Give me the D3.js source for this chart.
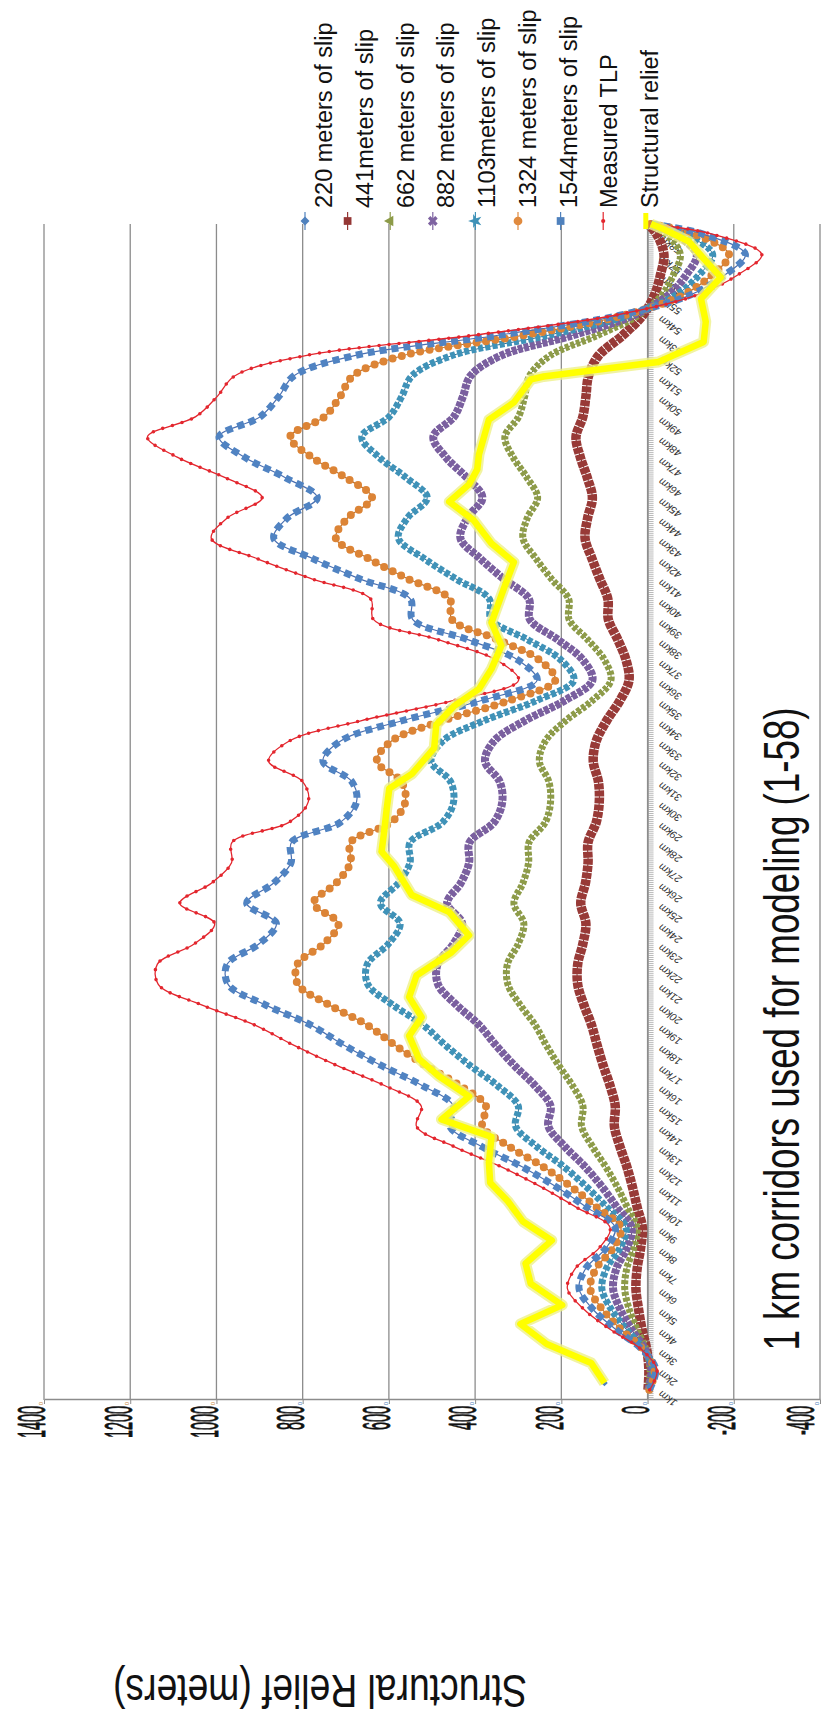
<!DOCTYPE html>
<html>
<head>
<meta charset="utf-8">
<script src="https://cdn.jsdelivr.net/npm/d3@7"></script>
<style>
  body { margin: 0; background: #fff; }
  svg { display: block; background: #fff; }
</style>
</head>
<body>
<div id="chart"></div>
<script>
// corridor labels along the km axis
const kmLabels = ["1km","2km","3km","4km","5km","6km","7km","8km","9km","10km",
  "11km","12km","13km","14km","15km","16km","17km","18km","19km","20km",
  "21km","22km","23km","24km","25km","26km","27km","28km","29km","30km",
  "31km","32km","33km","34km","35km","36km","37km","38km","39km","40km",
  "41km","42km","43km","44km","45km","46km","47km","48km","49km","50km",
  "51km","52km","53km","54km","55km","56km","57km","58km"]

// where each modelled value sits along the km axis (last one is the end of the profile)
const kmAt = [1, 2, 3, 4, 5, 6, 7, 8, 9, 10, 11, 12, 13, 14, 15, 16, 17, 18, 19, 20,
  21, 22, 23, 24, 25, 26, 27, 28, 29, 30, 31, 32, 33, 34, 35, 36, 37, 38, 39, 40,
  41, 42, 43, 44, 45, 46, 47, 48, 49, 50, 51, 52, 53, 54, 55, 56, 57, 58, 58.5]

const valueTicks = [-400, -200, 0, 200, 400, 600, 800, 1000, 1200, 1400]

// modelled relief (m)
const slip220 = [-1, -3, 2, 13, 21, 27, 24, 16, 12, 24, 35, 48, 64, 77, 75, 87, 103, 117, 130, 148, 162, 162, 150, 143, 155, 144, 138, 138, 119, 112, 114, 126, 119, 95, 64, 43, 50, 69, 91, 92, 111, 129, 145, 139, 128, 140, 156, 166, 150, 143, 137, 114, 58, 11, -16, -30, -38, -21, -1]
const slip441 = [-1, -6, 4, 25, 43, 53, 48, 32, 25, 47, 70, 97, 128, 153, 150, 174, 206, 235, 261, 296, 324, 325, 300, 287, 310, 289, 276, 275, 237, 225, 229, 251, 237, 190, 128, 85, 100, 139, 182, 183, 223, 259, 289, 279, 255, 280, 312, 331, 299, 285, 274, 227, 117, 21, -33, -60, -76, -43, -3]
const slip662 = [-2, -9, 6, 38, 64, 80, 72, 48, 37, 71, 105, 145, 192, 230, 225, 261, 309, 352, 391, 444, 486, 487, 450, 430, 465, 433, 414, 413, 356, 337, 343, 377, 356, 285, 192, 128, 150, 208, 273, 275, 334, 388, 434, 418, 383, 420, 468, 497, 449, 428, 411, 341, 175, 32, -49, -90, -114, -64, -4]
const slip882 = [-3, -13, 9, 50, 85, 106, 95, 64, 50, 94, 141, 194, 257, 306, 300, 348, 412, 469, 521, 592, 649, 650, 601, 574, 620, 578, 551, 551, 475, 450, 457, 502, 475, 380, 257, 171, 201, 278, 363, 367, 445, 518, 578, 557, 511, 561, 623, 663, 599, 570, 547, 455, 233, 43, -66, -120, -151, -86, -6]
const slip1103 = [-4, -16, 11, 63, 106, 133, 119, 80, 62, 118, 176, 242, 321, 383, 375, 435, 515, 586, 651, 740, 811, 812, 751, 717, 775, 722, 689, 689, 594, 562, 571, 628, 594, 475, 321, 214, 251, 347, 454, 459, 556, 647, 723, 696, 639, 701, 779, 829, 749, 713, 684, 569, 291, 54, -82, -150, -189, -107, -7]
const slip1324 = [-4, -19, 13, 75, 128, 159, 143, 96, 75, 141, 211, 291, 385, 459, 450, 522, 618, 704, 782, 888, 973, 975, 901, 861, 930, 867, 827, 826, 712, 675, 686, 753, 712, 570, 385, 256, 301, 417, 545, 550, 668, 777, 867, 836, 766, 841, 935, 994, 898, 855, 821, 682, 350, 64, -99, -180, -227, -129, -9]
const slip1544 = [-5, -22, 15, 88, 149, 186, 167, 112, 87, 165, 246, 339, 449, 536, 525, 609, 721, 821, 912, 1036, 1135, 1137, 1051, 1004, 1085, 1011, 965, 964, 831, 787, 800, 879, 831, 665, 449, 299, 351, 486, 636, 642, 779, 906, 1012, 975, 894, 981, 1091, 1160, 1048, 998, 958, 796, 408, 75, -115, -210, -265, -150, -10]

// measured relief, vertices of the yellow line (km, m)
const reliefKm = [1.34, 2.33, 3.26, 4.25, 5.18, 6.24, 7.23, 8.37, 9.3, 10.3, 11.21, 12.21, 13.48, 14.34, 15.47, 16.47, 17.32, 18.46, 19.38, 20.37, 21.44, 22.57, 23.42, 24.56, 25.41, 26.83, 27.54, 28.54, 29.67, 30.66, 31.37, 32.65, 33.8, 34.72, 35.57, 36.56, 37.7, 38.84, 40.54, 41.82, 42.74, 43.88, 44.8, 45.66, 46.4, 47.14, 48.85, 49.7, 50.84, 50.98, 51.69, 52.68, 53.68, 54.81, 55.87, 56.8, 57.65, 58.25, 58.5]
const reliefValue = [100, 131, 234, 295, 198, 271, 283, 222, 289, 324, 365, 368, 362, 478, 414, 484, 530, 553, 524, 553, 536, 455, 414, 460, 547, 588, 617, 611, 605, 599, 547, 495, 490, 449, 391, 362, 339, 362, 333, 310, 362, 403, 460, 414, 395, 391, 368, 310, 270, 241, -25, -130, -135, -124, -170, -130, -95, -37, -8]

const legendLabels = ["220 meters of slip", "441meters of slip", "662 meters of slip", "882 meters of slip",
  "1103meters of slip", "1324 meters of slip", "1544meters of slip", "Measured TLP", "Structural relief"]
// legend swatches in the order they appear
const legendMarks = [
  { shape: "diamond", color: "#4f81bd" },
  { shape: "square", color: "#953735" },
  { shape: "triangle", color: "#8d9b48" },
  { shape: "x", color: "#7e63a1" },
  { shape: "star", color: "#3f92b8" },
  { shape: "circle", color: "#e08a3e" },
  { shape: "square", color: "#4f81bd" },
  { shape: "dot", color: "#e3262e" },
  { shape: "line", color: "#ffff00" }
]

const W = 823, H = 1735
const font = '"Liberation Sans", Arial, sans-serif'

const svg = d3.select('#chart').append('svg')
    .attr('width', W)
    .attr('height', H)
    .attr('font-family', font)

// the chart is built upright in a 1735 x 823 frame and turned a quarter turn left
const g = svg.append('g')
    .attr('transform', `translate(0,${H}) rotate(-90)`)

const plot = { left: 335, right: 1511, top: 44, bottom: 820 }

const x = d3.scaleLinear()
    .domain([0.5, 58.5])
    .range([plot.left, plot.right])
const y = d3.scaleLinear()
    .domain([-400, 1400])
    .range([plot.bottom, plot.top])

// gridlines
g.append('g')
    .selectAll('line')
    .data(valueTicks)
    .join('line')
        .attr('x1', plot.left)
        .attr('x2', plot.right)
        .attr('y1', d => y(d))
        .attr('y2', d => y(d))
        .attr('stroke', '#8c8c8c')
        .attr('stroke-width', 1.3)

// value axis
g.append('g')
    .attr('transform', `translate(${plot.left},0)`)
    .call(d3.axisLeft(y).tickValues(valueTicks).tickSize(4).tickSizeOuter(0).tickFormat(''))
    .call(a => a.select('.domain').attr('stroke', '#8c8c8c').attr('stroke-width', 1.3))
    .call(a => a.selectAll('.tick line').attr('stroke', '#8c8c8c'))

// value labels (narrow, tall figures); kept inside the page edge
const labelSize = 38
g.append('g')
    .selectAll('text')
    .data(valueTicks)
    .join('text')
        .attr('transform', d => `translate(${plot.left - 6},${Math.min(y(d) - 12, W - 0.6 * labelSize)}) scale(0.38,1)`)
        .attr('text-anchor', 'end')
        .attr('dy', '0.35em')
        .attr('font-size', labelSize)
        .attr('fill', '#111')
        .attr('stroke', '#111')
        .attr('stroke-width', 0.9)
        .text(d => d)

// little marks beside the value labels
g.append('g')
    .selectAll('text')
    .data(valueTicks)
    .join('text')
        .attr('x', plot.left - 2)
        .attr('y', d => Math.min(y(d) - 1, W - 4))
        .attr('text-anchor', 'end')
        .attr('font-size', 6)
        .attr('fill', d => d >= 1000 ? '#c8873e' : '#4f81bd')
        .text('0')

// km axis with a tick every 0.1 km
g.append('g')
    .attr('transform', `translate(0,${y(0)})`)
    .call(d3.axisBottom(x).tickValues(d3.range(5, 586).map(i => i / 10)).tickSize(6).tickSizeOuter(0).tickFormat(''))
    .call(a => a.select('.domain').attr('stroke', '#8c8c8c').attr('stroke-width', 1.3))
    .call(a => a.selectAll('.tick line').attr('stroke', '#9a9a9a').attr('stroke-width', 0.7))

g.append('g')
    .selectAll('text')
    .data(kmLabels)
    .join('text')
        .attr('transform', (d, i) => `translate(${x(i + 1)},${y(0) + 14}) rotate(-55)`)
        .attr('text-anchor', 'end')
        .attr('font-style', 'italic')
        .attr('font-size', 10.5)
        .attr('fill', '#333')
        .text(d => d)

// ---- series ----
const smooth = d3.line()
    .x((d, i) => x(kmAt[i]))
    .y(d => y(d))
    .curve(d3.curveCatmullRom)

const series = g.append('g')

const drawBand = (data, color, width, dash) => {
    series.append('path')
        .attr('d', smooth(data))
        .attr('fill', 'none')
        .attr('stroke', color)
        .attr('stroke-width', width)
        .attr('stroke-dasharray', dash)
}
const drawThin = (data, color, width) => {
    series.append('path')
        .attr('d', smooth(data))
        .attr('fill', 'none')
        .attr('stroke', color)
        .attr('stroke-width', width)
}
const drawDots = (data, color, width, gap) => {
    series.append('path')
        .attr('d', smooth(data))
        .attr('fill', 'none')
        .attr('stroke', color)
        .attr('stroke-width', width)
        .attr('stroke-linecap', 'round')
        .attr('stroke-dasharray', `0 ${gap}`)
}

const relief = reliefKm.map((k, i) => [k, reliefValue[i]])

// diamonds of the relief series (mostly hidden under the yellow line)
series.append('g')
    .selectAll('path')
    .data(relief)
    .join('path')
        .attr('d', d3.symbol(d3.symbolSquare, 22))
        .attr('transform', d => `translate(${x(d[0])},${y(d[1])}) rotate(45)`)
        .attr('fill', '#4f81bd')

drawThin(slip220, '#7a2a28', 1)
drawBand(slip220, '#983a37', 9.5, '6 1')

drawThin(slip441, '#6f7f32', 1)
drawBand(slip441, '#8d9b48', 7, '4 1.8')

drawThin(slip662, '#5d4680', 1)
drawBand(slip662, '#7a5f9f', 8, '5 1.3')

drawThin(slip882, '#2f7396', 1)
drawBand(slip882, '#3f92b8', 7, '5 2.2')

drawThin(slip1103, '#b9712f', 1.2)
drawDots(slip1103, '#dc8436', 8, 9.5)

drawThin(slip1324, '#4a6fb0', 1.2)
drawBand(slip1324, '#5083c2', 7, '7 5')

drawThin(slip1544, '#e3262e', 1.3)
drawDots(slip1544, '#e3262e', 3.6, 10)

// measured relief, thick yellow
const straight = d3.line()
    .x(d => x(d[0]))
    .y(d => y(d[1]))
series.append('path')
    .attr('d', straight(relief))
    .attr('fill', 'none')
    .attr('stroke', '#eef08a')
    .attr('stroke-width', 11)
    .attr('stroke-linejoin', 'round')
    .attr('opacity', 0.8)
series.append('path')
    .attr('d', straight(relief))
    .attr('fill', 'none')
    .attr('stroke', '#ffff00')
    .attr('stroke-width', 6.5)
    .attr('stroke-linejoin', 'round')

// ---- titles ----
g.append('text')
    .attr('transform', `translate(60,320) rotate(-90) scale(0.81,1)`)
    .attr('text-anchor', 'middle')
    .attr('font-size', 46)
    .attr('fill', '#111')
    .text('Structural Relief (meters)')

g.append('text')
    .attr('transform', `translate(706,799) scale(0.735,1)`)
    .attr('text-anchor', 'middle')
    .attr('font-size', 50)
    .attr('fill', '#111')
    .text('1 km corridors used for modeling (1-58)')

// ---- legend ----
const legend = g.append('g')
const textY = i => 332 + 40.75 * i
const markY = i => 305 + 42.6 * i
const markX = 1514

legend.selectAll('text')
    .data(legendLabels)
    .join('text')
        .attr('x', 1527)
        .attr('y', (d, i) => textY(i))
        .attr('font-size', 23.5)
        .attr('fill', '#111')
        .text(d => d)

const shapes = {
    diamond: d3.symbol(d3.symbolSquare, 40),
    square: d3.symbol(d3.symbolSquare, 60),
    triangle: d3.symbol(d3.symbolTriangle, 50),
    x: d3.symbol(d3.symbolCross, 60),
    star: d3.symbol(d3.symbolStar, 60),
    circle: d3.symbol(d3.symbolCircle, 60),
    dot: d3.symbol(d3.symbolCircle, 14)
}
legendMarks.forEach((m, i) => {
    const cy = markY(i)
    if (m.shape === 'line') {
        legend.append('line')
            .attr('x1', markX - 8).attr('x2', markX + 8)
            .attr('y1', cy).attr('y2', cy)
            .attr('stroke', m.color)
            .attr('stroke-width', 5)
        return
    }
    legend.append('line')
        .attr('x1', markX - 9).attr('x2', markX + 9)
        .attr('y1', cy).attr('y2', cy)
        .attr('stroke', m.color)
        .attr('stroke-width', 1.2)
    const rot = (m.shape === 'diamond' || m.shape === 'x') ? 45 : 0
    legend.append('path')
        .attr('d', shapes[m.shape])
        .attr('transform', `translate(${markX},${cy}) rotate(${rot})`)
        .attr('fill', m.color)
})
</script>
</body>
</html>
